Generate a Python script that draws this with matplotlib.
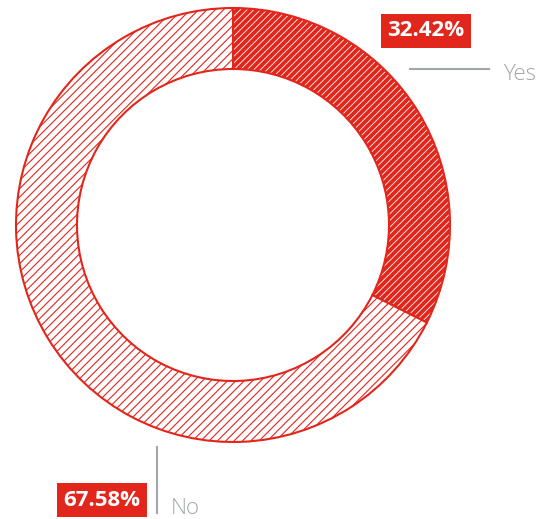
import matplotlib
matplotlib.use("Agg")
import matplotlib.pyplot as plt
import numpy as np
from matplotlib.collections import LineCollection

labels = ["Yes", "No"]
shares = [32.42, 67.58]
share_text = ["32.42%", "67.58%"]

red = "#e2261c"
grey = "#a2a6aa"
W, H = 539, 519

plt.rcParams["font.family"] = ["Open Sans", "DejaVu Sans"]
plt.rcParams["hatch.color"] = red
plt.rcParams["hatch.linewidth"] = 0.8

fig = plt.figure(figsize=(W / 100, H / 100), dpi=100)
ax = fig.add_axes([0, 0, 1, 1])

wedges, _ = ax.pie(shares, startangle=90, counterclock=False,
                   radius=217, center=(233, H - 225),
                   colors=["white", "white"],
                   wedgeprops=dict(width=61, edgecolor=red, linewidth=1.5))
wedges[1].set_hatch("////")

# bold diagonal stripes for the "Yes" slice, clipped to the wedge
step = 6.67
offsets = np.arange(-H, W + step, step)
stripes = [[(c, 0), (c + H, H)] for c in offsets]
lc = LineCollection(stripes, colors=red, linewidths=2.8, zorder=wedges[0].get_zorder() + 0.1)
ax.add_collection(lc)
lc.set_clip_path(wedges[0])

ax.set_xlim(0, W)
ax.set_ylim(0, H)
ax.set_aspect("equal")
ax.axis("off")

box = dict(boxstyle="square,pad=0.3", facecolor=red, edgecolor="none")

# Yes label
ax.text(426, H - 31, share_text[0], color="white", fontsize=16, fontweight="bold",
        ha="center", va="center", bbox=box)
ax.plot([410, 489], [H - 69, H - 69], color=grey, lw=1.5)
ax.text(503, H - 75, labels[0], color=grey, fontsize=16, fontweight="light",
        ha="left", va="center")

# No label
ax.text(102, H - 500, share_text[1], color="white", fontsize=16, fontweight="bold",
        ha="center", va="center", bbox=box)
ax.plot([157, 157], [H - 447, H - 513], color=grey, lw=1.5)
ax.text(171, H - 509, labels[1], color=grey, fontsize=16, fontweight="light",
        ha="left", va="center")

fig.savefig("out.png", dpi=100)
